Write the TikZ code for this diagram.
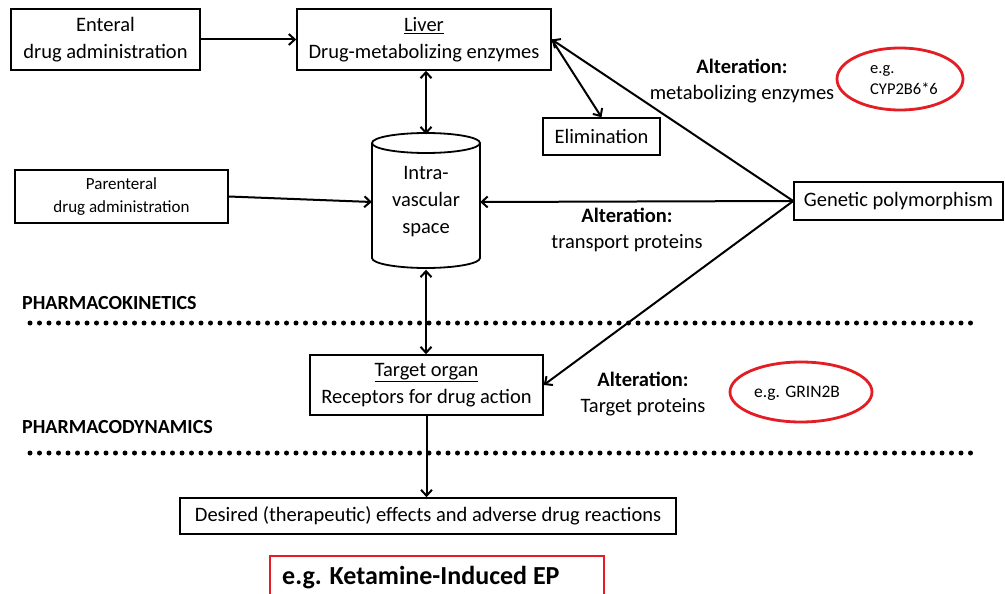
\documentclass[tikz,border=0pt]{standalone}
\usepackage{fontspec}
\setmainfont{Carlito}
\usetikzlibrary{arrows.meta,shapes.geometric}
\definecolor{redline}{RGB}{228,28,36}
\begin{document}
\begin{tikzpicture}[x=1pt,y=-1pt,
  box/.style={draw, line width=1.5pt, inner sep=0pt, align=center, font=\fontsize{20.5}{27}\selectfont},
  lab/.style={inner sep=0pt, align=center, font=\fontsize{20.5}{26}\selectfont},
  head/.style={inner sep=0pt, anchor=west, font=\fontsize{20}{22}\selectfont\bfseries},
  conn/.style={line width=2pt, -{Straight Barb[length=6pt,width=11pt]}},
  dconn/.style={line width=2pt, {Straight Barb[length=6pt,width=11pt]}-{Straight Barb[length=6pt,width=11pt]}},
  dotsline/.style={line width=5pt, line cap=round, dash pattern=on 0pt off 9.5pt},
  redring/.style={draw=redline, line width=2.8pt}]
\clip (0,0) rectangle (1005,594);
\fill[white] (0,0) rectangle (1005,594);

% boxes
\node[box, minimum width=189pt, minimum height=61pt] (enteral) at (105.5,39.5) {Enteral\\drug administration};
\node[box, minimum width=254pt, minimum height=61pt] (liver) at (424,39.5) {\underline{Liver}\\Drug-metabolizing enzymes};
\node[box, minimum width=117pt, minimum height=37pt] (elim) at (601.5,136.5) {Elimination};
\node[box, minimum width=209pt, minimum height=38pt] (genetic) at (898.5,201) {Genetic polymorphism};
\node[box, minimum width=213pt, minimum height=53pt, font=\fontsize{17}{23}\selectfont] (parent) at (121.5,196.5) {Parenteral\\drug administration};
\node[box, minimum width=233pt, minimum height=60pt] (target) at (426.5,385) {\underline{Target organ}\\Receptors for drug action};
\node[box, minimum width=496pt, minimum height=36pt] (desired) at (428,516) {Desired (therapeutic) effects and adverse drug reactions};

% cylinder
\node[inner sep=0pt, minimum width=108pt, minimum height=135pt, align=center, font=\fontsize{20.5}{27}\selectfont] (cyl) at (426,202) {Intra-\\vascular\\space};
\draw[line width=1.8pt] (426,143) ellipse [x radius=54, y radius=10];
\draw[line width=1.8pt] (372,143) -- (372,258) arc[start angle=180, end angle=0, x radius=54, y radius=10] -- (480,143);

% connectors
\draw[conn] (enteral.east) -- (liver.west);
\draw[dconn] (cyl.north) -- (cyl.north |- liver.south);
\draw[conn] (liver.east) -- (elim.north);
\draw[conn] (genetic.west) -- (liver.east);
\draw[conn] (genetic.west) -- (cyl.east);
\draw[conn] (genetic.west) -- (target.east);
\draw[conn] (parent.east) -- (cyl.west);
\draw[dconn] (cyl.south) -- (cyl.south |- target.north);
\draw[conn] (target.south) -- (target.south |- desired.north);

% labels
\node[lab] (alt1) at (742,81) {\textbf{Alteration:}\\metabolizing enzymes};
\node[lab] (alt2) at (627,230) {\textbf{Alteration:}\\transport proteins};
\node[lab] (alt3) at (643,394) {\textbf{Alteration:}\\Target proteins};

\node[head] (pk) at (22,303) {PHARMACOKINETICS};
\node[head] (pd) at (22,427) {PHARMACODYNAMICS};
\draw[dotsline] (30,323) -- (975,323);
\draw[dotsline] (30,453) -- (975,453);

% red marks
\node[redring, ellipse, minimum width=126pt, minimum height=62pt, inner sep=0pt] (ring1) at (900,79) {};
\node[inner sep=0pt, align=left, font=\fontsize{16.5}{21}\selectfont] (cyp) at (904,80) {e.g.\\CYP2B6*6};
\node[redring, ellipse, minimum width=142pt, minimum height=60pt, inner sep=0pt] (ring2) at (801,392) {};
\node[inner sep=0pt, font=\fontsize{17.5}{20}\selectfont] (grin) at (797,393) {e.g. GRIN2B};
\node[draw=redline, line width=1.4pt, minimum width=334pt, minimum height=60pt, inner sep=0pt] (ketbox) at (437,586) {};
\node[inner sep=0pt, anchor=west, font=\fontsize{26}{30}\selectfont\bfseries] (ket) at (282,578) {e.g. Ketamine-Induced EP};
\end{tikzpicture}
\end{document}
